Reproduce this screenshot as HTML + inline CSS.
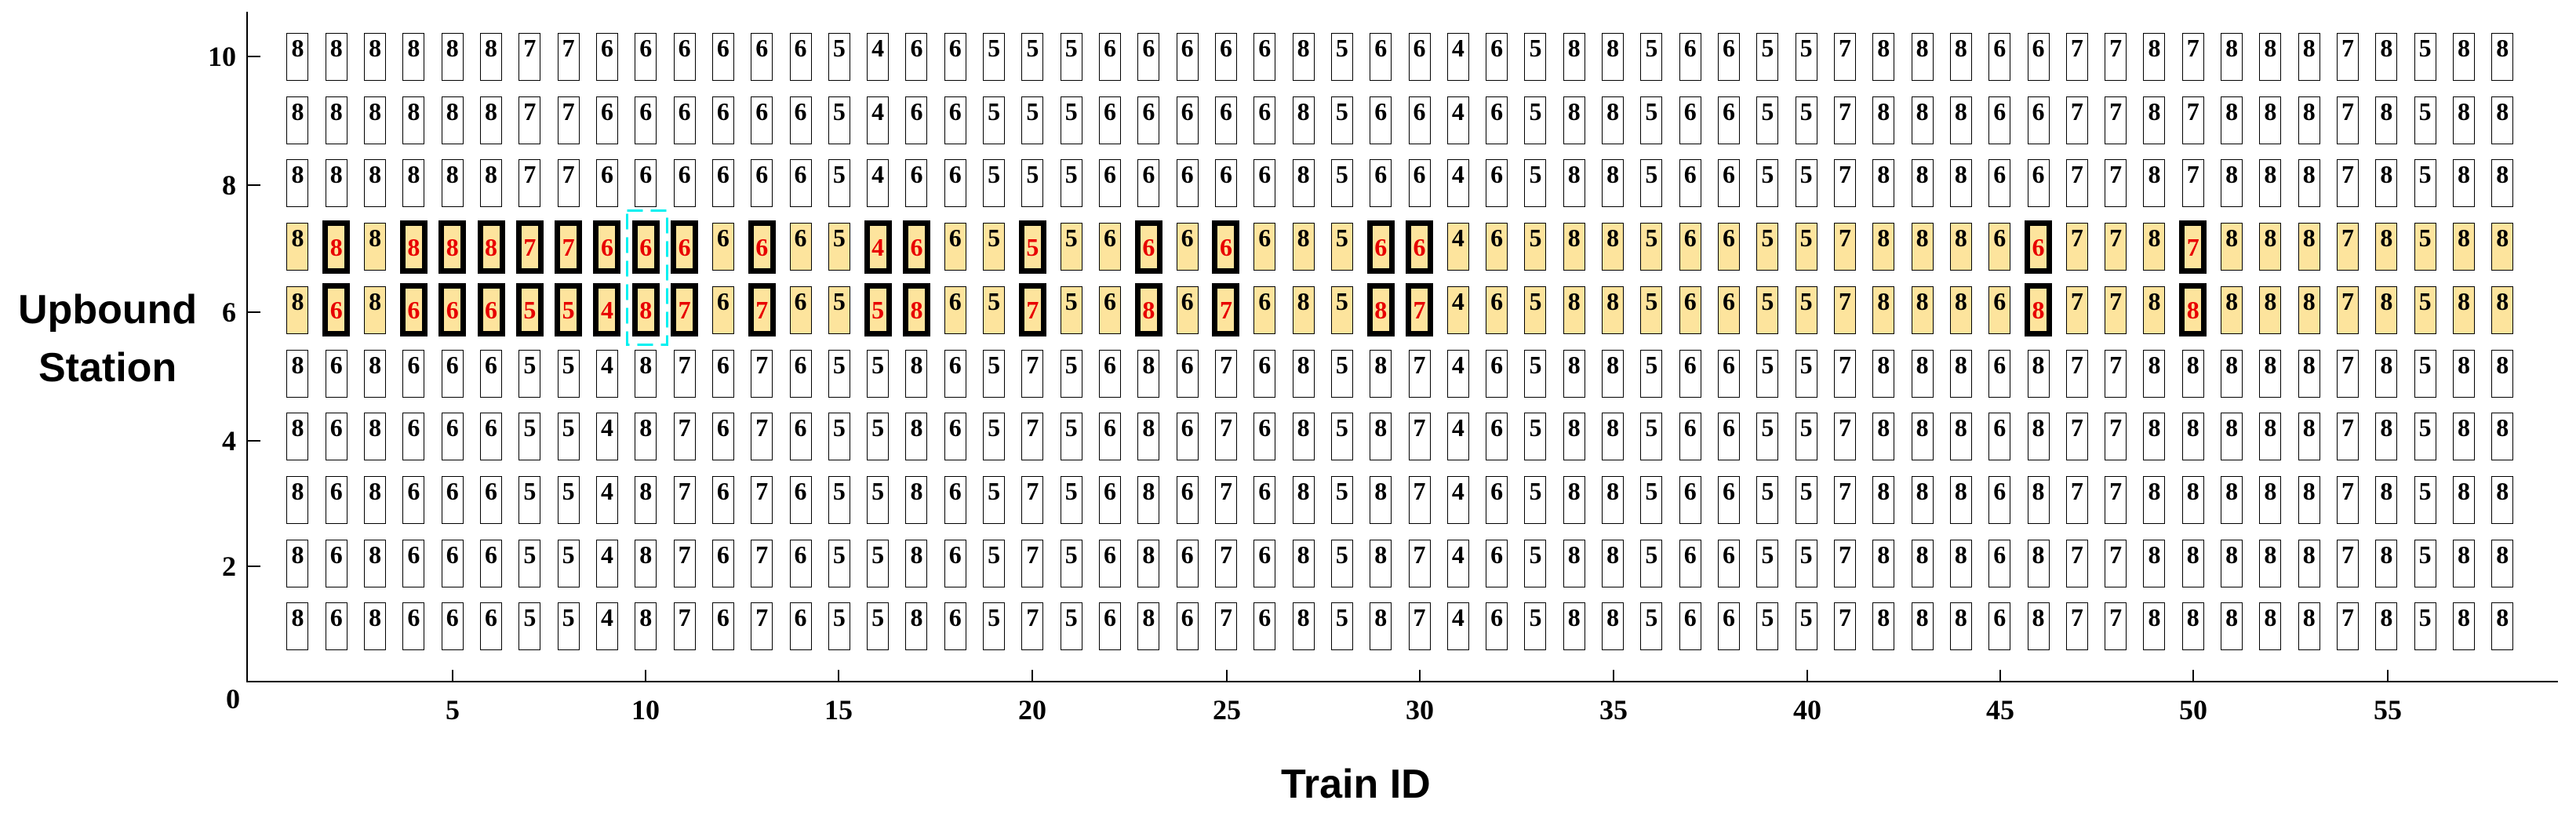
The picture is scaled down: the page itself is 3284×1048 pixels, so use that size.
<!DOCTYPE html>
<html><head><meta charset="utf-8"><style>
body{margin:0;width:3284px;height:1048px;background:#fff;position:relative;overflow:hidden}
.r{position:absolute;left:354.84px;display:flex;align-items:flex-start;white-space:nowrap}
.r i{display:block;flex:none;width:26px;height:59px;border:1px solid #000;margin:0 10.66px;text-align:center;line-height:59px;font:bold 32px "Liberation Serif",serif;font-style:normal;color:#000;background:#fff;box-sizing:content-box}
.y i{background:#FDE49D}
.r i.k{width:21px;height:54px;border:7px solid #000;margin:0 7.16px;position:relative;top:-3.5px;line-height:54px;color:#E80000}
.ax{position:absolute;background:#000}
.t{position:absolute;font:bold 36px/1 "Liberation Serif",serif;color:#000}
.xl{width:80px;text-align:center;top:887px}
.yl{width:60px;text-align:right;left:241px}
.lab{position:absolute;font:bold 52px/1 "Liberation Sans",sans-serif;color:#000;white-space:nowrap}
</style></head><body>
<div class="ax" style="left:314px;top:15px;width:2px;height:855px"></div>
<div class="ax" style="left:314px;top:868px;width:2947px;height:2px"></div>
<div class="ax" style="left:315px;top:71px;width:17px;height:2px"></div>
<div class="ax" style="left:315px;top:235px;width:17px;height:2px"></div>
<div class="ax" style="left:315px;top:397px;width:17px;height:2px"></div>
<div class="ax" style="left:315px;top:561px;width:17px;height:2px"></div>
<div class="ax" style="left:315px;top:721px;width:17px;height:2px"></div>
<div class="ax" style="left:576px;top:854px;width:2px;height:15px"></div>
<div class="ax" style="left:822px;top:854px;width:2px;height:15px"></div>
<div class="ax" style="left:1068px;top:854px;width:2px;height:15px"></div>
<div class="ax" style="left:1315px;top:854px;width:2px;height:15px"></div>
<div class="ax" style="left:1563px;top:854px;width:2px;height:15px"></div>
<div class="ax" style="left:1809px;top:854px;width:2px;height:15px"></div>
<div class="ax" style="left:2056px;top:854px;width:2px;height:15px"></div>
<div class="ax" style="left:2303px;top:854px;width:2px;height:15px"></div>
<div class="ax" style="left:2549px;top:854px;width:2px;height:15px"></div>
<div class="ax" style="left:2795px;top:854px;width:2px;height:15px"></div>
<div class="ax" style="left:3043px;top:854px;width:2px;height:15px"></div>
<div class="t yl" style="top:54px">10</div>
<div class="t yl" style="top:218px">8</div>
<div class="t yl" style="top:380px">6</div>
<div class="t yl" style="top:544px">4</div>
<div class="t yl" style="top:704px">2</div>
<div class="t" style="left:288px;top:873px">0</div>
<div class="t xl" style="left:537px">5</div>
<div class="t xl" style="left:783px">10</div>
<div class="t xl" style="left:1029px">15</div>
<div class="t xl" style="left:1276px">20</div>
<div class="t xl" style="left:1524px">25</div>
<div class="t xl" style="left:1770px">30</div>
<div class="t xl" style="left:2017px">35</div>
<div class="t xl" style="left:2264px">40</div>
<div class="t xl" style="left:2510px">45</div>
<div class="t xl" style="left:2756px">50</div>
<div class="t xl" style="left:3004px">55</div>
<div class="lab" style="left:23px;top:369px">Upbound</div>
<div class="lab" style="left:49px;top:443px">Station</div>
<div class="lab" style="left:1633px;top:974px">Train ID</div>

<div class="r" style="top:42px"><i>8</i><i>8</i><i>8</i><i>8</i><i>8</i><i>8</i><i>7</i><i>7</i><i>6</i><i>6</i><i>6</i><i>6</i><i>6</i><i>6</i><i>5</i><i>4</i><i>6</i><i>6</i><i>5</i><i>5</i><i>5</i><i>6</i><i>6</i><i>6</i><i>6</i><i>6</i><i>8</i><i>5</i><i>6</i><i>6</i><i>4</i><i>6</i><i>5</i><i>8</i><i>8</i><i>5</i><i>6</i><i>6</i><i>5</i><i>5</i><i>7</i><i>8</i><i>8</i><i>8</i><i>6</i><i>6</i><i>7</i><i>7</i><i>8</i><i>7</i><i>8</i><i>8</i><i>8</i><i>7</i><i>8</i><i>5</i><i>8</i><i>8</i></div>
<div class="r" style="top:122.7px"><i>8</i><i>8</i><i>8</i><i>8</i><i>8</i><i>8</i><i>7</i><i>7</i><i>6</i><i>6</i><i>6</i><i>6</i><i>6</i><i>6</i><i>5</i><i>4</i><i>6</i><i>6</i><i>5</i><i>5</i><i>5</i><i>6</i><i>6</i><i>6</i><i>6</i><i>6</i><i>8</i><i>5</i><i>6</i><i>6</i><i>4</i><i>6</i><i>5</i><i>8</i><i>8</i><i>5</i><i>6</i><i>6</i><i>5</i><i>5</i><i>7</i><i>8</i><i>8</i><i>8</i><i>6</i><i>6</i><i>7</i><i>7</i><i>8</i><i>7</i><i>8</i><i>8</i><i>8</i><i>7</i><i>8</i><i>5</i><i>8</i><i>8</i></div>
<div class="r" style="top:203.4px"><i>8</i><i>8</i><i>8</i><i>8</i><i>8</i><i>8</i><i>7</i><i>7</i><i>6</i><i>6</i><i>6</i><i>6</i><i>6</i><i>6</i><i>5</i><i>4</i><i>6</i><i>6</i><i>5</i><i>5</i><i>5</i><i>6</i><i>6</i><i>6</i><i>6</i><i>6</i><i>8</i><i>5</i><i>6</i><i>6</i><i>4</i><i>6</i><i>5</i><i>8</i><i>8</i><i>5</i><i>6</i><i>6</i><i>5</i><i>5</i><i>7</i><i>8</i><i>8</i><i>8</i><i>6</i><i>6</i><i>7</i><i>7</i><i>8</i><i>7</i><i>8</i><i>8</i><i>8</i><i>7</i><i>8</i><i>5</i><i>8</i><i>8</i></div>
<div class="r y" style="top:284.1px"><i>8</i><i class="k">8</i><i>8</i><i class="k">8</i><i class="k">8</i><i class="k">8</i><i class="k">7</i><i class="k">7</i><i class="k">6</i><i class="k">6</i><i class="k">6</i><i>6</i><i class="k">6</i><i>6</i><i>5</i><i class="k">4</i><i class="k">6</i><i>6</i><i>5</i><i class="k">5</i><i>5</i><i>6</i><i class="k">6</i><i>6</i><i class="k">6</i><i>6</i><i>8</i><i>5</i><i class="k">6</i><i class="k">6</i><i>4</i><i>6</i><i>5</i><i>8</i><i>8</i><i>5</i><i>6</i><i>6</i><i>5</i><i>5</i><i>7</i><i>8</i><i>8</i><i>8</i><i>6</i><i class="k">6</i><i>7</i><i>7</i><i>8</i><i class="k">7</i><i>8</i><i>8</i><i>8</i><i>7</i><i>8</i><i>5</i><i>8</i><i>8</i></div>
<div class="r y" style="top:364.8px"><i>8</i><i class="k">6</i><i>8</i><i class="k">6</i><i class="k">6</i><i class="k">6</i><i class="k">5</i><i class="k">5</i><i class="k">4</i><i class="k">8</i><i class="k">7</i><i>6</i><i class="k">7</i><i>6</i><i>5</i><i class="k">5</i><i class="k">8</i><i>6</i><i>5</i><i class="k">7</i><i>5</i><i>6</i><i class="k">8</i><i>6</i><i class="k">7</i><i>6</i><i>8</i><i>5</i><i class="k">8</i><i class="k">7</i><i>4</i><i>6</i><i>5</i><i>8</i><i>8</i><i>5</i><i>6</i><i>6</i><i>5</i><i>5</i><i>7</i><i>8</i><i>8</i><i>8</i><i>6</i><i class="k">8</i><i>7</i><i>7</i><i>8</i><i class="k">8</i><i>8</i><i>8</i><i>8</i><i>7</i><i>8</i><i>5</i><i>8</i><i>8</i></div>
<div class="r" style="top:445.5px"><i>8</i><i>6</i><i>8</i><i>6</i><i>6</i><i>6</i><i>5</i><i>5</i><i>4</i><i>8</i><i>7</i><i>6</i><i>7</i><i>6</i><i>5</i><i>5</i><i>8</i><i>6</i><i>5</i><i>7</i><i>5</i><i>6</i><i>8</i><i>6</i><i>7</i><i>6</i><i>8</i><i>5</i><i>8</i><i>7</i><i>4</i><i>6</i><i>5</i><i>8</i><i>8</i><i>5</i><i>6</i><i>6</i><i>5</i><i>5</i><i>7</i><i>8</i><i>8</i><i>8</i><i>6</i><i>8</i><i>7</i><i>7</i><i>8</i><i>8</i><i>8</i><i>8</i><i>8</i><i>7</i><i>8</i><i>5</i><i>8</i><i>8</i></div>
<div class="r" style="top:526.2px"><i>8</i><i>6</i><i>8</i><i>6</i><i>6</i><i>6</i><i>5</i><i>5</i><i>4</i><i>8</i><i>7</i><i>6</i><i>7</i><i>6</i><i>5</i><i>5</i><i>8</i><i>6</i><i>5</i><i>7</i><i>5</i><i>6</i><i>8</i><i>6</i><i>7</i><i>6</i><i>8</i><i>5</i><i>8</i><i>7</i><i>4</i><i>6</i><i>5</i><i>8</i><i>8</i><i>5</i><i>6</i><i>6</i><i>5</i><i>5</i><i>7</i><i>8</i><i>8</i><i>8</i><i>6</i><i>8</i><i>7</i><i>7</i><i>8</i><i>8</i><i>8</i><i>8</i><i>8</i><i>7</i><i>8</i><i>5</i><i>8</i><i>8</i></div>
<div class="r" style="top:606.9px"><i>8</i><i>6</i><i>8</i><i>6</i><i>6</i><i>6</i><i>5</i><i>5</i><i>4</i><i>8</i><i>7</i><i>6</i><i>7</i><i>6</i><i>5</i><i>5</i><i>8</i><i>6</i><i>5</i><i>7</i><i>5</i><i>6</i><i>8</i><i>6</i><i>7</i><i>6</i><i>8</i><i>5</i><i>8</i><i>7</i><i>4</i><i>6</i><i>5</i><i>8</i><i>8</i><i>5</i><i>6</i><i>6</i><i>5</i><i>5</i><i>7</i><i>8</i><i>8</i><i>8</i><i>6</i><i>8</i><i>7</i><i>7</i><i>8</i><i>8</i><i>8</i><i>8</i><i>8</i><i>7</i><i>8</i><i>5</i><i>8</i><i>8</i></div>
<div class="r" style="top:687.6px"><i>8</i><i>6</i><i>8</i><i>6</i><i>6</i><i>6</i><i>5</i><i>5</i><i>4</i><i>8</i><i>7</i><i>6</i><i>7</i><i>6</i><i>5</i><i>5</i><i>8</i><i>6</i><i>5</i><i>7</i><i>5</i><i>6</i><i>8</i><i>6</i><i>7</i><i>6</i><i>8</i><i>5</i><i>8</i><i>7</i><i>4</i><i>6</i><i>5</i><i>8</i><i>8</i><i>5</i><i>6</i><i>6</i><i>5</i><i>5</i><i>7</i><i>8</i><i>8</i><i>8</i><i>6</i><i>8</i><i>7</i><i>7</i><i>8</i><i>8</i><i>8</i><i>8</i><i>8</i><i>7</i><i>8</i><i>5</i><i>8</i><i>8</i></div>
<div class="r" style="top:768.3px"><i>8</i><i>6</i><i>8</i><i>6</i><i>6</i><i>6</i><i>5</i><i>5</i><i>4</i><i>8</i><i>7</i><i>6</i><i>7</i><i>6</i><i>5</i><i>5</i><i>8</i><i>6</i><i>5</i><i>7</i><i>5</i><i>6</i><i>8</i><i>6</i><i>7</i><i>6</i><i>8</i><i>5</i><i>8</i><i>7</i><i>4</i><i>6</i><i>5</i><i>8</i><i>8</i><i>5</i><i>6</i><i>6</i><i>5</i><i>5</i><i>7</i><i>8</i><i>8</i><i>8</i><i>6</i><i>8</i><i>7</i><i>7</i><i>8</i><i>8</i><i>8</i><i>8</i><i>8</i><i>7</i><i>8</i><i>5</i><i>8</i><i>8</i></div>

<svg style="position:absolute;left:0;top:0" width="3284" height="1048"><rect x="799.5" y="268.5" width="51" height="171" fill="none" stroke="#00F0F0" stroke-width="3" stroke-dasharray="20 10"/></svg>
</body></html>
